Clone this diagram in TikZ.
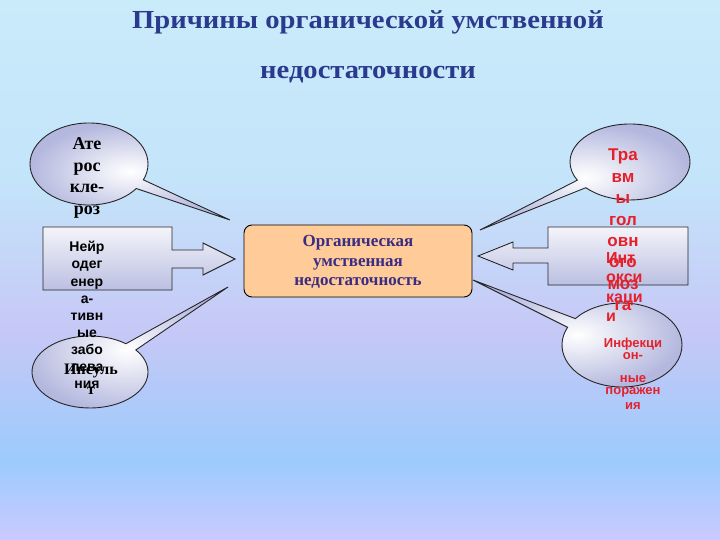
\documentclass[tikz,border=0pt]{standalone}
\usepackage{fontspec}
\setmainfont{Liberation Serif}
\setsansfont{Liberation Sans}
\usetikzlibrary{shapes.callouts}

\definecolor{titleblue}{HTML}{2B3A8C}
\definecolor{boxpeach}{HTML}{FFCC99}
\definecolor{boxink}{HTML}{3A2C82}
\definecolor{redink}{HTML}{E5202B}
\definecolor{bga}{HTML}{C9EBFA}
\definecolor{bgb}{HTML}{C4E4FA}
\definecolor{bgc}{HTML}{C6C8F6}
\definecolor{bgd}{HTML}{9CCBFC}
\definecolor{bge}{HTML}{CACAFF}
\definecolor{bubble}{HTML}{B4B8DE}

\tikzset{
  bubble/.style={ellipse callout, draw=black!85, line width=0.9pt, inner sep=0pt,
    inner color=white, outer color=bubble, callout pointer arc=14},
  panel/.style={draw=black!85, line width=0.9pt, top color=white!85!bubble, bottom color=bubble!90},
  serif/.style={font=\bfseries\fontsize{#1}{#1}\selectfont, align=center, inner sep=0pt},
  sans/.style={font=\sffamily\bfseries\fontsize{#1}{#1}\selectfont, align=center, inner sep=0pt}
}

\begin{document}
\begin{tikzpicture}[x=1pt,y=-1pt]
        \useasboundingbox (0,0) rectangle (720,540);
        \foreach \ya/\yb/\ca/\cb in {0/181/bga/bgb, 180/331/bgb/bgc, 330/461/bgc/bgd, 460/540/bgd/bge}
          \fill[top color=\ca, bottom color=\cb] (0,\ya) rectangle (720,\yb);

        \node[serif=26, text=titleblue] (t1) at (368,22) {\scalebox{1.1}[1]{Причины органической умственной}};
        \node[serif=26, text=titleblue] (t2) at (368,75) {\scalebox{1.1}[1]{недостаточности}};

        \coordinate (p1) at (230,220);
        \coordinate (p2) at (235,259);
        \coordinate (p3) at (228,287);
        \coordinate (q1) at (480,230);
        \coordinate (q2) at (478,256);
        \coordinate (q3) at (473,280);

        \node[bubble, minimum width=118, minimum height=82, callout absolute pointer={(p1)}] (ath) at (89,164) {};
        \node[bubble, minimum width=116, minimum height=72, callout absolute pointer={(p3)}] (ins) at (90,372) {};
        \node[bubble, minimum width=120, minimum height=76, callout absolute pointer={(q1)}] (tra) at (630,162) {};
        \node[bubble, minimum width=120, minimum height=84, callout absolute pointer={(q3)}] (inf) at (622,345) {};

        \draw[panel] (43,227) -- (172,227) -- (172,250) -- (203,250) -- (203,243) -- (p2)
          -- (203,275) -- (203,268) -- (172,268) -- (172,290) -- (43,290) -- cycle;
        \draw[panel] (688,227) -- (548,227) -- (548,248) -- (513,248) -- (513,242) -- (q2)
          -- (513,270) -- (513,263) -- (548,263) -- (548,285) -- (688,285) -- cycle;

        \node[draw=black, line width=0.9pt, fill=boxpeach, rounded corners=8pt,
          minimum width=228, minimum height=72] (org) at (358,261) {};
        \node[serif=17, text=boxink, font=\bfseries\fontsize{17}{19.5}\selectfont] (orgt) at (358,262)
          {Органическая\\умственная\\недостаточность};

        \node[serif=18, font=\bfseries\fontsize{18}{21.5}\selectfont] (atht) at (87,178) {Ате\\рос\\кле-\\роз};
        \node[sans=14, font=\sffamily\bfseries\fontsize{14}{17.1}\selectfont] (neur) at (87,315)
          {Нейр\\одег\\енер\\а-\\тивн\\ые\\забо\\лева\\ния};
        \node[serif=16, font=\bfseries\fontsize{16}{20}\selectfont] (inst) at (91,379) {Инсуль\\т};

        \node[sans=17, text=redink, font=\sffamily\bfseries\fontsize{17}{21.4}\selectfont] (trat) at (623,230)
          {Тра\\вм\\ы\\гол\\овн\\ого\\моз\\га};
        \node[sans=16, text=redink, align=left, anchor=west, font=\sffamily\bfseries\fontsize{16}{19.5}\selectfont] (intt) at (606,287)
          {Инт\\окси\\каци\\и};
        \node[sans=13, text=redink, font=\sffamily\bfseries\fontsize{13}{12}\selectfont] (inft) at (633,374)
          {Инфекци\\он-\\[11pt]ные\\поражен\\[3pt]ия};
\end{tikzpicture}
\end{document}
